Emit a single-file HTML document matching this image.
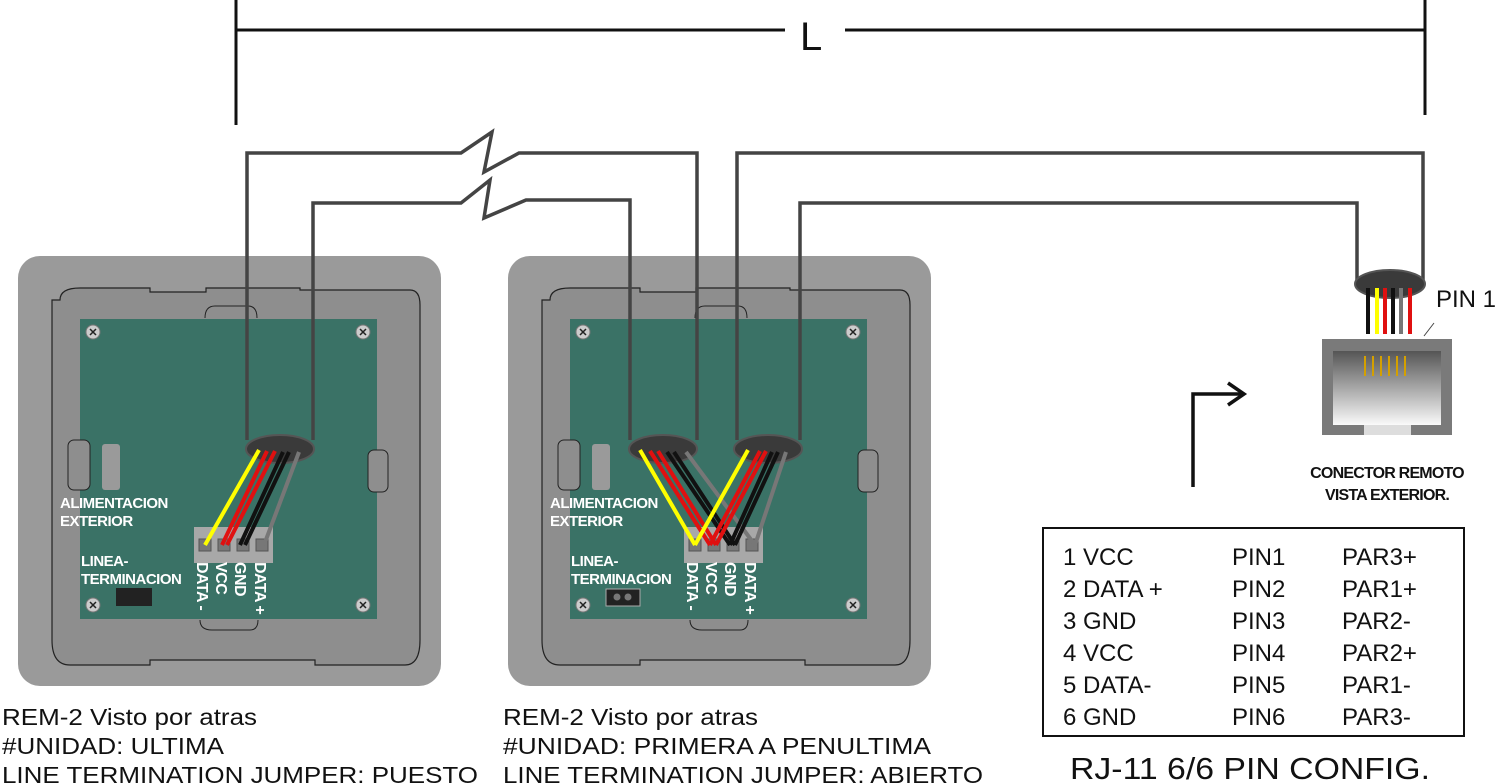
<!DOCTYPE html>
<html><head><meta charset="utf-8"><style>
html,body{margin:0;padding:0;background:#fff;}
svg{display:block;font-family:"Liberation Sans",sans-serif;}
</style></head><body>
<svg width="1504" height="784" viewBox="0 0 1504 784" xmlns="http://www.w3.org/2000/svg">
<defs>
<linearGradient id="jack" x1="0" y1="0" x2="0" y2="1">
<stop offset="0" stop-color="#555"/><stop offset="1" stop-color="#fafafa"/>
</linearGradient>
<g id="dev">
  <rect x="18" y="256" width="423" height="430" rx="22" fill="#9a9a9a"/>
  <path d="M60 300 Q60 288 80 288 L150 288 L150 292 L206 292 L206 288 L300 288 L300 290 L410 290 Q420 290 420 305 L420 640 Q420 665 405 665 L315 665 L315 660 L150 660 L150 665 L70 665 Q52 665 52 640 L52 300 Z" fill="#8e8e8e" stroke="#222" stroke-width="1.2"/>
  <rect x="80" y="319" width="297" height="300" fill="#3a7266"/>
  <path d="M205 318 Q205 306 215 306 L248 306 Q257 306 257 318" fill="#8e8e8e" stroke="#222" stroke-width="1"/>
  <path d="M200 620 Q200 630 212 630 L250 630 Q258 630 258 620" fill="#8e8e8e" stroke="#222" stroke-width="1"/>
  <rect x="68" y="440" width="22" height="50" rx="6" fill="#8e8e8e" stroke="#222" stroke-width="1"/>
  <rect x="102" y="444" width="18" height="46" rx="3" fill="#9a9a9a"/>
  <rect x="368" y="450" width="20" height="42" rx="6" fill="#8e8e8e" stroke="#222" stroke-width="1"/>
  <g fill="#ccc" stroke="#777" stroke-width="1">
    <circle cx="93" cy="332" r="7"/><circle cx="363" cy="332" r="7"/>
    <circle cx="93" cy="605" r="7"/><circle cx="363" cy="605" r="7"/>
  </g>
  <g stroke="#222" stroke-width="1.5">
    <path d="M90 329l6 6M96 329l-6 6"/><path d="M360 329l6 6M366 329l-6 6"/>
    <path d="M90 602l6 6M96 602l-6 6"/><path d="M360 602l6 6M366 602l-6 6"/>
  </g>
  <rect x="194" y="527" width="79" height="36" fill="#a8a8a8"/>
  <g fill="#777" stroke="#555"><rect x="199" y="539" width="12" height="12"/><rect x="218" y="539" width="12" height="12"/><rect x="237" y="539" width="12" height="12"/><rect x="256" y="539" width="12" height="12"/></g>
  <g fill="#fff" font-size="15" font-weight="bold" letter-spacing="-0.5">
    <text x="60" y="508">ALIMENTACION</text><text x="60" y="526">EXTERIOR</text>
    <text x="81" y="566">LINEA-</text><text x="81" y="584">TERMINACION</text>
    <g font-size="16">
    <text transform="translate(197,562) rotate(90)">DATA -</text>
    <text transform="translate(216,562) rotate(90)">VCC</text>
    <text transform="translate(235,562) rotate(90)">GND</text>
    <text transform="translate(255,562) rotate(90)">DATA +</text>
    </g>
  </g>
</g>
</defs>

<g stroke="#111" stroke-width="3" fill="none">
  <path d="M236 0V125M1425 0V115M236 30H785M845 30H1425"/>
</g>
<text x="800" y="50" font-size="40" fill="#111">L</text>

<use href="#dev"/>
<use href="#dev" transform="translate(490,0)"/>

<rect x="116" y="588" width="36" height="18" fill="#222"/>
<rect x="606" y="589" width="34" height="17" fill="#222" stroke="#aaa"/>
<circle cx="617" cy="597" r="3.5" fill="#777"/><circle cx="628" cy="597" r="3.5" fill="#777"/>

<g stroke="#444" stroke-width="3.5" fill="none" stroke-linejoin="miter">
  <path d="M247 440V153H461L492 132L484 172L519 153H697V440"/>
  <path d="M313 440V203H461L490 180L484 218L526 200H630V440"/>
  <path d="M737 440V153H1423V280"/>
  <path d="M800 440V203H1357V280"/>
</g>
<g fill="#3a3a3a" stroke="#555" stroke-width="2">
  <ellipse cx="280" cy="449" rx="34" ry="14"/>
  <ellipse cx="663" cy="449" rx="34" ry="14"/>
  <ellipse cx="768" cy="449" rx="34" ry="14"/>
  <ellipse cx="1390" cy="284" rx="35" ry="14"/>
</g>
<g stroke-width="4" fill="none">
  <path d="M259 450L205 545" stroke="#ff0"/>
  <path d="M267 451L222 545M275 451L227 545" stroke="#e01010"/>
  <path d="M283 452L240 545M289 452L245 545" stroke="#111"/>
  <path d="M299 452L264 545" stroke="#777"/>
</g>
<g stroke-width="4" fill="none">
  <path d="M640 450L695 545" stroke="#ff0"/>
  <path d="M650 451L710 545M658 451L716 545" stroke="#e01010"/>
  <path d="M667 452L730 545M674 452L735 545" stroke="#111"/>
  <path d="M686 452L755 545" stroke="#777"/>
  <path d="M748 450L695 545" stroke="#ff0"/>
  <path d="M760 451L710 545M766 451L716 545" stroke="#e01010"/>
  <path d="M772 452L730 545M778 452L735 545" stroke="#111"/>
  <path d="M786 452L755 545" stroke="#777"/>
</g>

<g stroke-width="4">
  <path d="M1368 288V334" stroke="#111"/><path d="M1377 288V334" stroke="#ff0"/>
  <path d="M1385 288V334" stroke="#e01010"/><path d="M1393 288V334" stroke="#111"/>
  <path d="M1401 288V334" stroke="#777"/><path d="M1410 288V334" stroke="#e01010"/>
</g>
<rect x="1322" y="339" width="130" height="96" fill="#7a7a7a"/>
<rect x="1333" y="351" width="108" height="74" fill="url(#jack)"/>
<rect x="1364" y="425" width="47" height="10" fill="#ddd"/>
<g stroke="#d4a000" stroke-width="2"><path d="M1365 356V376M1373 356V376M1381 356V376M1389 356V376M1397 356V376M1405 356V376"/></g>
<path d="M1424 336L1434 323" stroke="#444" stroke-width="1"/>
<text x="1436" y="307" font-size="24" fill="#111">PIN 1</text>
<g fill="#111" font-size="16" font-weight="bold" text-anchor="middle" letter-spacing="-0.8">
  <text x="1387" y="478">CONECTOR REMOTO</text><text x="1387" y="500">VISTA EXTERIOR.</text>
</g>
<g stroke="#111" stroke-width="3.5" fill="none">
  <path d="M1193 487V394H1243"/><path d="M1228 383L1244 394L1228 405"/>
</g>

<rect x="1043" y="528" width="421" height="208" fill="none" stroke="#111" stroke-width="2"/>
<g font-size="24" fill="#111">
  <text x="1063" y="565">1 VCC</text><text x="1232" y="565">PIN1</text><text x="1342" y="565">PAR3+</text>
  <text x="1063" y="597">2 DATA +</text><text x="1232" y="597">PIN2</text><text x="1342" y="597">PAR1+</text>
  <text x="1063" y="629">3 GND</text><text x="1232" y="629">PIN3</text><text x="1342" y="629">PAR2-</text>
  <text x="1063" y="661">4 VCC</text><text x="1232" y="661">PIN4</text><text x="1342" y="661">PAR2+</text>
  <text x="1063" y="693">5 DATA-</text><text x="1232" y="693">PIN5</text><text x="1342" y="693">PAR1-</text>
  <text x="1063" y="725">6 GND</text><text x="1232" y="725">PIN6</text><text x="1342" y="725">PAR3-</text>
</g>
<text x="1070" y="779" font-size="31" fill="#111" textLength="360" lengthAdjust="spacingAndGlyphs">RJ-11 6/6 PIN CONFIG.</text>

<g font-size="23" fill="#111">
  <text x="2" y="725" textLength="255" lengthAdjust="spacingAndGlyphs">REM-2 Visto por atras</text>
  <text x="2" y="754" textLength="222" lengthAdjust="spacingAndGlyphs">#UNIDAD: ULTIMA</text>
  <text x="2" y="783" textLength="476" lengthAdjust="spacingAndGlyphs">LINE TERMINATION JUMPER: PUESTO</text>
  <text x="503" y="725" textLength="255" lengthAdjust="spacingAndGlyphs">REM-2 Visto por atras</text>
  <text x="503" y="754" textLength="428" lengthAdjust="spacingAndGlyphs">#UNIDAD:  PRIMERA A PENULTIMA</text>
  <text x="503" y="783" textLength="480" lengthAdjust="spacingAndGlyphs">LINE TERMINATION JUMPER: ABIERTO</text>
</g>
</svg>
</body></html>
